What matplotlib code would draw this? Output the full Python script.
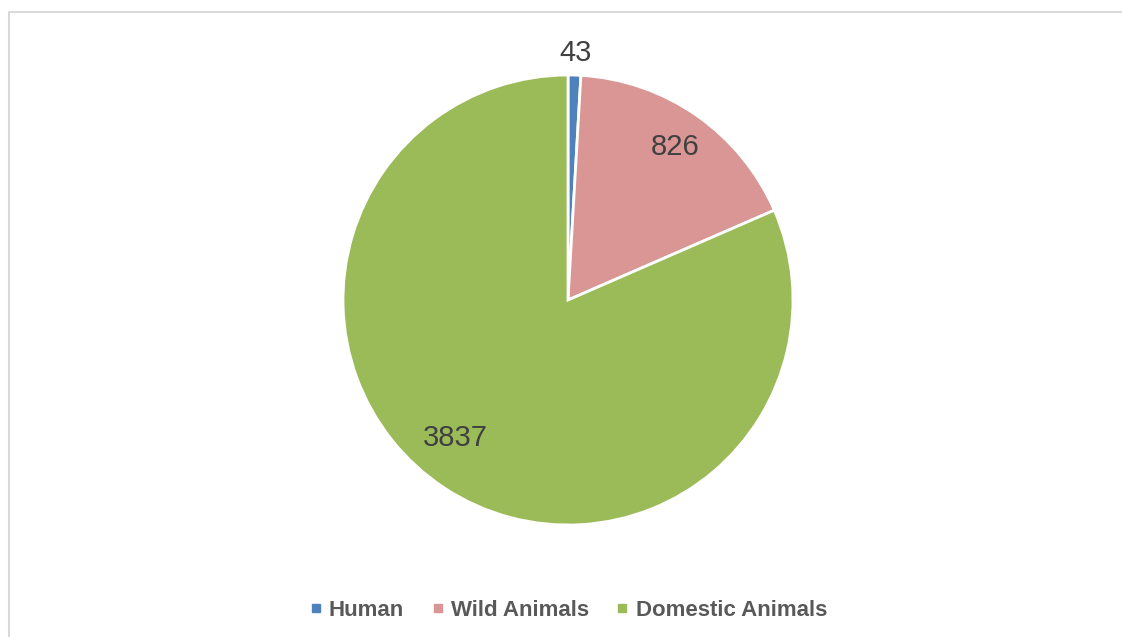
import numpy as np
import matplotlib.pyplot as plt
from matplotlib.lines import Line2D

plt.rcParams['font.family'] = ['Liberation Sans', 'DejaVu Sans']

categories = ['Human', 'Wild Animals', 'Domestic Animals']
counts = [43, 826, 3837]
colors = ['#4F81BD', '#D99694', '#9BBB59']

# label placement (radius in pie units, angular nudge in degrees)
label_r = [1.1, 0.83, 0.79]
label_nudge = [0, 0, -6]

W, H = 1122, 637
fig = plt.figure(figsize=(W / 100, H / 100), dpi=100)

# light grey chart frame, only top and left edges visible
fx, fy = 8.5 / W, 1 - 11.5 / H
fig.add_artist(Line2D([fx, fx, 1.0], [0.0, fy, fy], transform=fig.transFigure,
                      color='#D9D9D9', linewidth=1.5))

cx, cy, r = 568, 300, 225
ax = fig.add_axes([(cx - r) / W, (H - cy - r) / H, 2 * r / W, 2 * r / H])
wedges, _ = ax.pie(counts, colors=colors, startangle=90, counterclock=False,
                   wedgeprops=dict(edgecolor='white', linewidth=2))
ax.set_xlim(-1, 1)
ax.set_ylim(-1, 1)
ax.set_aspect('equal')
ax.axis('off')

for w, n, rr, nd in zip(wedges, counts, label_r, label_nudge):
    mid = np.deg2rad((w.theta1 + w.theta2) / 2 + nd)
    ax.text(rr * np.cos(mid), rr * np.sin(mid), str(n), ha='center', va='center',
            fontsize=21, color='#404040')

handles = [Line2D([], [], marker='s', linestyle='none', markersize=5.5,
                  markerfacecolor=c, markeredgecolor=c) for c in colors]
fig.legend(handles, categories, loc='center', bbox_to_anchor=(cx / W, 1 - 610 / H),
           ncol=3, frameon=False, handlelength=0.6, handletextpad=0.3,
           columnspacing=1.2, prop=dict(size=16, weight='bold'), labelcolor='#595959')

fig.savefig('out.png', dpi=100)
